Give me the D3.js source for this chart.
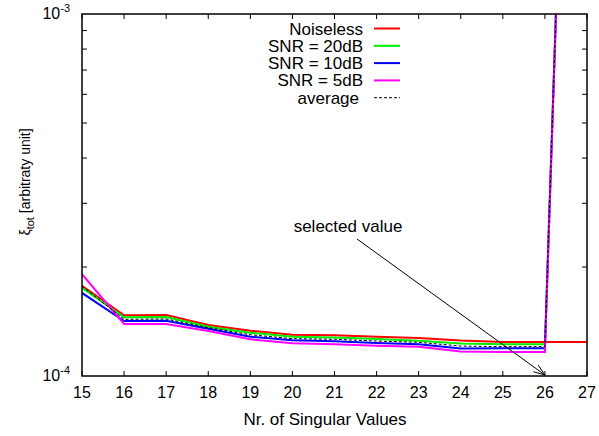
<!DOCTYPE html>
<html>
<head>
<meta charset="utf-8">
<script src="https://cdn.jsdelivr.net/npm/d3@7"></script>
<style>
  html, body { margin: 0; padding: 0; background: #fff; }
  svg { display: block; font-family: "Liberation Sans", Arial, Helvetica, sans-serif; }
</style>
</head>
<body>
<svg id="chart" width="599" height="436"></svg>
<script>
// Number of singular values kept
const nSV = [15, 16, 17, 18, 19, 20, 21, 22, 23, 24, 25, 26, 27];

// Total error xi_tot for each noise level (arbitrary unit)
const noiseless = [1.776e-4, 1.472e-4, 1.474e-4, 1.383e-4, 1.334e-4, 1.300e-4, 1.296e-4, 1.284e-4, 1.273e-4, 1.253e-4, 1.241e-4, 1.241e-4, 1.241e-4];
const snr20 =     [1.754e-4, 1.453e-4, 1.455e-4, 1.368e-4, 1.317e-4, 1.284e-4, 1.277e-4, 1.265e-4, 1.252e-4, 1.230e-4, 1.223e-4, 1.223e-4, 4.0e-1];
const snr10 =     [1.696e-4, 1.419e-4, 1.421e-4, 1.350e-4, 1.284e-4, 1.255e-4, 1.247e-4, 1.233e-4, 1.223e-4, 1.191e-4, 1.193e-4, 1.193e-4, 4.0e-1];
const snr5 =      [1.910e-4, 1.392e-4, 1.392e-4, 1.331e-4, 1.263e-4, 1.231e-4, 1.224e-4, 1.212e-4, 1.205e-4, 1.169e-4, 1.165e-4, 1.165e-4, 4.0e-1];
const average =   [1.770e-4, 1.434e-4, 1.437e-4, 1.360e-4, 1.300e-4, 1.268e-4, 1.263e-4, 1.249e-4, 1.239e-4, 1.210e-4, 1.205e-4, 1.205e-4, 4.0e-1];

const seriesNames = ["Noiseless", "SNR = 20dB", "SNR = 10dB", "SNR = 5dB", "average"];
const seriesColors = ["#ff0000", "#00ee00", "#0000ff", "#ff00ff", "#000000"];
const seriesValues = [noiseless, snr20, snr10, snr5, average];

const xTicks = [15, 16, 17, 18, 19, 20, 21, 22, 23, 24, 25, 26, 27];
const yMinorTicks = [2e-4, 3e-4, 4e-4, 5e-4, 6e-4, 7e-4, 8e-4, 9e-4];
const yMajorTicks = [1e-4, 1e-3];
const yMajorExp = ["-4", "-3"];

const annotationText = "selected value";
const annotationTarget = 26;

const svg = d3.select("#chart");
const pLeft = 82, pRight = 587, pTop = 14, pBottom = 376;

const x = d3.scaleLinear().domain([15, 27]).range([pLeft, pRight]);
const y = d3.scaleLog().domain([1e-4, 1e-3]).range([pBottom, pTop]);

svg.append("defs").append("clipPath").attr("id", "plotclip")
  .append("rect").attr("x", pLeft).attr("y", pTop)
  .attr("width", pRight - pLeft).attr("height", pBottom - pTop);

// Axes: bottom/top with integer ticks, left/right with minor log ticks
const tickLen = 5;
const gx = svg.append("g");
gx.selectAll("line.xb").data(xTicks).join("line").attr("class", "xb")
  .attr("x1", d => x(d)).attr("x2", d => x(d))
  .attr("y1", pBottom).attr("y2", pBottom - tickLen)
  .attr("stroke", "#000").attr("stroke-width", 1);
gx.selectAll("line.xt").data(xTicks).join("line").attr("class", "xt")
  .attr("x1", d => x(d)).attr("x2", d => x(d))
  .attr("y1", pTop).attr("y2", pTop + tickLen)
  .attr("stroke", "#000").attr("stroke-width", 1);
gx.selectAll("text").data(xTicks).join("text")
  .attr("x", d => x(d)).attr("y", 398)
  .attr("text-anchor", "middle").attr("font-size", 16)
  .text(d => d);

const gy = svg.append("g");
gy.selectAll("line.yl").data(yMinorTicks).join("line").attr("class", "yl")
  .attr("x1", pLeft).attr("x2", pLeft + tickLen)
  .attr("y1", d => y(d)).attr("y2", d => y(d))
  .attr("stroke", "#000").attr("stroke-width", 1);
gy.selectAll("line.yr").data(yMinorTicks).join("line").attr("class", "yr")
  .attr("x1", pRight).attr("x2", pRight - tickLen)
  .attr("y1", d => y(d)).attr("y2", d => y(d))
  .attr("stroke", "#000").attr("stroke-width", 1);
const ylab = gy.selectAll("text").data(yMajorTicks).join("text")
  .attr("x", 70).attr("y", d => y(d) + 5)
  .attr("text-anchor", "end").attr("font-size", 16);
ylab.append("tspan").text("10");
ylab.append("tspan").attr("font-size", 11).attr("dy", -7).text((d, i) => yMajorExp[i]);

// Data lines
const line = d3.line().x((d, i) => x(nSV[i])).y(d => y(d));
const gl = svg.append("g").attr("clip-path", "url(#plotclip)");
seriesValues.forEach((vals, k) => {
  gl.append("path").datum(vals)
    .attr("d", line)
    .attr("fill", "none")
    .attr("stroke", seriesColors[k])
    .attr("stroke-width", k === 4 ? 1 : 2)
    .attr("stroke-dasharray", k === 4 ? "3,2" : null)
    .attr("stroke-linejoin", "miter");
});

// Frame
svg.append("rect").attr("x", pLeft).attr("y", pTop)
  .attr("width", pRight - pLeft).attr("height", pBottom - pTop)
  .attr("fill", "none").attr("stroke", "#000").attr("stroke-width", 1.5);

// Legend
const legTextX = 363, legLineX1 = 374, legLineX2 = 400, legY0 = 28.5, legDY = 17.3;
const gleg = svg.append("g");
seriesNames.forEach((name, k) => {
  const yy = legY0 + k * legDY;
  gleg.append("text").attr("x", k === 4 ? 359 : legTextX).attr("y", yy + 6)
    .attr("text-anchor", "end").attr("font-size", 17).text(name);
  gleg.append("line").attr("x1", legLineX1).attr("x2", legLineX2)
    .attr("y1", yy).attr("y2", yy)
    .attr("stroke", seriesColors[k])
    .attr("stroke-width", k === 4 ? 1 : 2)
    .attr("stroke-dasharray", k === 4 ? "3,2" : null);
});

// Annotation arrow pointing at the chosen number of singular values
const tipX = x(annotationTarget), tipY = pBottom - 1;
const startX = 357, startY = 239;
svg.append("text").attr("x", 348).attr("y", 232)
  .attr("text-anchor", "middle").attr("font-size", 17).text(annotationText);
svg.append("line").attr("x1", startX).attr("y1", startY).attr("x2", tipX).attr("y2", tipY)
  .attr("stroke", "#000").attr("stroke-width", 1);
const ang = Math.atan2(tipY - startY, tipX - startX);
const headLen = 12, headAng = Math.PI / 9;
[ang + headAng, ang - headAng].forEach(a => {
  svg.append("line").attr("x1", tipX).attr("y1", tipY)
    .attr("x2", tipX - headLen * Math.cos(a)).attr("y2", tipY - headLen * Math.sin(a))
    .attr("stroke", "#000").attr("stroke-width", 1);
});

// Axis titles
svg.append("text").attr("x", 325).attr("y", 425)
  .attr("text-anchor", "middle").attr("font-size", 17).text("Nr. of Singular Values");
const yt = svg.append("text").attr("transform", "translate(30,182) rotate(-90)")
  .attr("text-anchor", "middle").attr("font-size", 14);
yt.append("tspan").text("ξ");
yt.append("tspan").attr("font-size", 11).attr("dy", 4).text("tot");
yt.append("tspan").attr("dy", -4).text(" [arbitraty unit]");
</script>
</body>
</html>
